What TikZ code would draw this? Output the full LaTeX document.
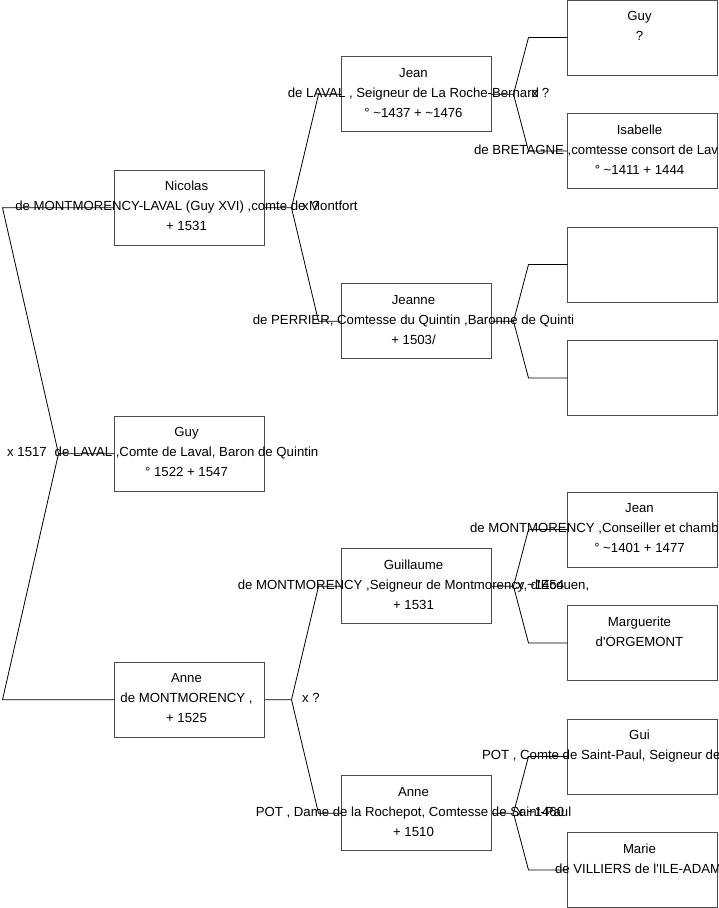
\documentclass[tikz,border=0pt]{standalone}
\usepackage{fontspec}
\setmainfont{Liberation Sans}
\usetikzlibrary{positioning,calc}

\newcommand{\gline}[1]{\makebox[0pt]{\rule[-7pt]{0pt}{20pt}#1\kern6pt}}
\newcommand{\cutline}[2]{\makebox[0pt][l]{\hspace*{-#1pt}\rule[-7pt]{0pt}{20pt}#2}}

\begin{document}
\begin{tikzpicture}[
    x=1pt, y=1pt,
    person/.style={rectangle, draw=black!70, line width=0.9pt, fill=white, minimum width=150pt, minimum height=75pt, inner sep=0pt, outer sep=0pt, align=center, font=\fontsize{13.2}{20}\selectfont},
    link/.style={draw=black, line width=0.8pt},
    tag/.style={inner sep=0pt, font=\fontsize{13.2}{20}\selectfont, yshift=1.5pt}
]
    \useasboundingbox (0,0) rectangle (719,-908);

    % Great-grandparents (right column)
    \node[person] (guyg) at (642.5,-37.5) {\gline{Guy}\\\gline{?}\\\gline{}};
    \node[person, below=38.5pt of guyg] (isabelle) {\gline{Isabelle}\\\cutline{168.5}{de BRETAGNE ,comtesse consort de Lav}\\\gline{° \textasciitilde1411 + 1444}};
    \node[person, below=38.5pt of isabelle] (blank1) {};
    \node[person, below=38.5pt of blank1] (blank2) {};
    \node[person, below=76.5pt of blank2] (jeang) {\gline{Jean}\\\cutline{172.5}{de MONTMORENCY ,Conseiller et chamb}\\\gline{° \textasciitilde1401 + 1477}};
    \node[person, below=38.5pt of jeang] (marguerite) {\gline{Marguerite}\\\gline{d\textquotesingle ORGEMONT}\\\gline{}};
    \node[person, below=38.5pt of marguerite] (gui) {\gline{Gui}\\\cutline{160.5}{POT , Comte de Saint-Paul, Seigneur de}\\\gline{}};
    \node[person, below=38.5pt of gui] (marie) {\gline{Marie}\\\cutline{87.5}{de VILLIERS de l\textquotesingle ILE-ADAM}\\\gline{}};

    % Grandparents (centered between their parents)
    \node[person, left=76pt of $(guyg.west)!0.5!(isabelle.west)$] (jean) {\gline{Jean}\\\gline{de LAVAL , Seigneur de La Roche-Bernard}\\\gline{° \textasciitilde1437 + \textasciitilde1476}};
    \node[person, left=76pt of $(blank1.west)!0.5!(blank2.west)$] (jeanne) {\gline{Jeanne}\\\gline{de PERRIER, Comtesse du Quintin ,Baronne de Quinti}\\\gline{+ 1503/}};
    \node[person, left=76pt of $(jeang.west)!0.5!(marguerite.west)$] (guillaume) {\gline{Guillaume}\\\gline{de MONTMORENCY ,Seigneur de Montmorency, d\textquotesingle Ecouen,}\\\gline{+ 1531}};
    \node[person, left=76pt of $(gui.west)!0.5!(marie.west)$] (annep) {\gline{Anne}\\\gline{POT , Dame de la Rochepot, Comtesse de Saint-Paul}\\\gline{+ 1510}};

    % Parents and son
    \node[person, left=77pt of $(jean.west)!0.5!(jeanne.west)$] (nicolas) {\gline{Nicolas}\\\gline{de MONTMORENCY-LAVAL (Guy XVI) ,comte de Montfort}\\\gline{+ 1531}};
    \node[person, left=77pt of $(guillaume.west)!0.5!(annep.west)$] (anne) {\gline{Anne}\\\gline{de MONTMORENCY ,}\\\gline{+ 1525}};
    \node[person] (guy) at ($(nicolas)!0.5!(anne)$) {\gline{Guy}\\\gline{de LAVAL ,Comte de Laval, Baron de Quintin}\\\gline{° 1522 + 1547}};

    % Forks
    \coordinate[left=56pt of guy] (guyx);
    \coordinate[right=27pt of nicolas] (nicolasx);
    \coordinate[right=27pt of anne] (annex);
    \coordinate[right=22pt of jean] (jeanx);
    \coordinate[right=22pt of jeanne] (jeannex);
    \coordinate[right=22pt of guillaume] (guillaumex);
    \coordinate[right=22pt of annep] (annepx);

    \draw[link] (nicolas) -- ([xshift=-112pt]nicolas.west) -- (guyx) -- (guy);
    \draw[link] (anne) -- ([xshift=-112pt]anne.west) -- (guyx);

    \draw[link] (nicolas) -- (nicolasx) -- ([xshift=-23pt]jean.west) -- (jean);
    \draw[link] (nicolasx) -- ([xshift=-23pt]jeanne.west) -- (jeanne);
    \draw[link] (anne) -- (annex) -- ([xshift=-23pt]guillaume.west) -- (guillaume);
    \draw[link] (annex) -- ([xshift=-23pt]annep.west) -- (annep);

    \draw[link] (jean) -- (jeanx) -- ([xshift=-39pt]guyg.west) -- (guyg);
    \draw[link] (jeanx) -- ([xshift=-39pt]isabelle.west) -- (isabelle);
    \draw[link] (jeanne) -- (jeannex) -- ([xshift=-39pt]blank1.west) -- (blank1);
    \draw[link] (jeannex) -- ([xshift=-39pt]blank2.west) -- (blank2);
    \draw[link] (guillaume) -- (guillaumex) -- ([xshift=-39pt]jeang.west) -- (jeang);
    \draw[link] (guillaumex) -- ([xshift=-39pt]marguerite.west) -- (marguerite);
    \draw[link] (annep) -- (annepx) -- ([xshift=-39pt]gui.west) -- (gui);
    \draw[link] (annepx) -- ([xshift=-39pt]marie.west) -- (marie);

    % Marriage tags
    \node[tag] (m1517) at ([xshift=-31.5pt]guyx) {x 1517};
    \node[tag] (mnicolas) at ([xshift=19.5pt]nicolasx) {x ?};
    \node[tag] (manne) at ([xshift=19.5pt]annex) {x ?};
    \node[tag] (mjean) at ([xshift=27pt]jeanx) {x ?};
    \node[tag] (mguillaume) at ([xshift=27pt]guillaumex) {x \textasciitilde1454};
    \node[tag] (mannep) at ([xshift=27pt]annepx) {x \textasciitilde1460};
\end{tikzpicture}
\end{document}
